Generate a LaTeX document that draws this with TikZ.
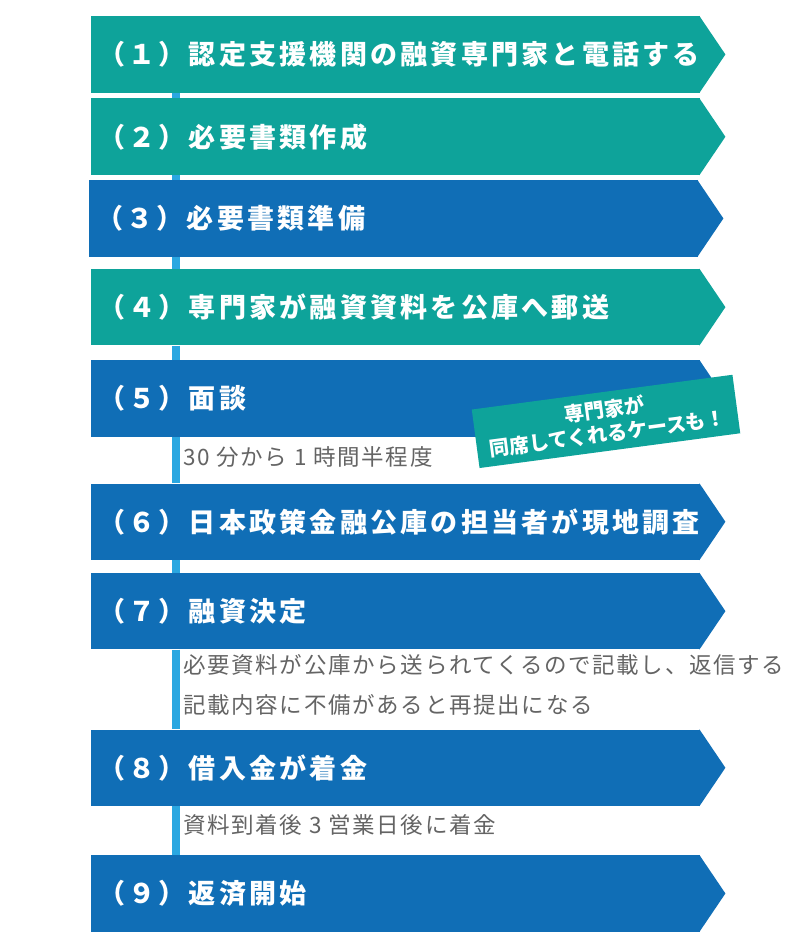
\documentclass[tikz,border=0pt]{standalone}
\usepackage{fontspec}
\usetikzlibrary{positioning}
\newfontfamily\titlefont{Noto Sans CJK JP}[LetterSpace=12]
\newfontfamily\notefont{Noto Sans CJK JP}[LetterSpace=7.5]
\newfontfamily\callfont{Noto Sans CJK JP}
\definecolor{flowteal}{RGB}{14,163,154}
\definecolor{flowblue}{RGB}{16,110,182}
\definecolor{spineblue}{RGB}{42,167,225}
\definecolor{notegray}{RGB}{100,100,100}

\begin{document}
\begin{tikzpicture}[x=1pt, y=-1pt,
    stepbox/.style={fill=#1, anchor=north west, minimum height=76.5pt, text width=595pt,
        inner xsep=7pt, inner ysep=0pt, align=left, text=white,
        font=\titlefont\bfseries\fontsize{27}{30}\selectfont},
    spine/.style={draw=spineblue, line width=8pt},
    note/.style={anchor=west, inner sep=0pt, text=notegray, align=left,
        font=\notefont\fontsize{22.5}{40}\selectfont},
    callout/.style={fill=flowteal, rotate=7.6, minimum width=263pt, minimum height=59pt,
        inner sep=0pt, align=center, text=white,
        font=\callfont\bfseries\fontsize{20}{24}\selectfont}]
    \useasboundingbox [fill=white] (0,0) rectangle (800,949);
    % steps
    \node [stepbox=flowteal] (s1) at (91,16) {（１）認定支援機関の融資専門家と電話する};
    \node [stepbox=flowteal] (s2) at (91,98.3) {（２）必要書類作成};
    \node [stepbox=flowblue] (s3) at (89,180) {（３）必要書類準備};
    \node [stepbox=flowteal] (s4) at (91,268.7) {（４）専門家が融資資料を公庫へ郵送};
    \node [stepbox=flowblue] (s5) at (91,360) {（５）面談};
    \node [stepbox=flowblue] (s6) at (91,483.3) {（６）日本政策金融公庫の担当者が現地調査};
    \node [stepbox=flowblue] (s7) at (91,572.7) {（７）融資決定};
    \node [stepbox=flowblue] (s8) at (91,729.3) {（８）借入金が着金};
    \node [stepbox=flowblue] (s9) at (91,855) {（９）返済開始};
    \fill [flowteal] ([xshift=-1pt]s1.north east) -- ([xshift=25pt]s1.east) -- ([xshift=-1pt]s1.south east) -- cycle;
    \fill [flowteal] ([xshift=-1pt]s2.north east) -- ([xshift=25pt]s2.east) -- ([xshift=-1pt]s2.south east) -- cycle;
    \fill [flowblue] ([xshift=-1pt]s3.north east) -- ([xshift=25pt]s3.east) -- ([xshift=-1pt]s3.south east) -- cycle;
    \fill [flowteal] ([xshift=-1pt]s4.north east) -- ([xshift=25pt]s4.east) -- ([xshift=-1pt]s4.south east) -- cycle;
    \fill [flowblue] ([xshift=-1pt]s5.north east) -- ([xshift=25pt]s5.east) -- ([xshift=-1pt]s5.south east) -- cycle;
    \fill [flowblue] ([xshift=-1pt]s6.north east) -- ([xshift=25pt]s6.east) -- ([xshift=-1pt]s6.south east) -- cycle;
    \fill [flowblue] ([xshift=-1pt]s7.north east) -- ([xshift=25pt]s7.east) -- ([xshift=-1pt]s7.south east) -- cycle;
    \fill [flowblue] ([xshift=-1pt]s8.north east) -- ([xshift=25pt]s8.east) -- ([xshift=-1pt]s8.south east) -- cycle;
    \fill [flowblue] ([xshift=-1pt]s9.north east) -- ([xshift=25pt]s9.east) -- ([xshift=-1pt]s9.south east) -- cycle;
    % spine between the steps
    \coordinate (axis) at (176,0);
    \draw [spine] (axis |- s1.south) -- (axis |- s2.north);
    \draw [spine] (axis |- s2.south) -- (axis |- s3.north);
    \draw [spine] (axis |- s3.south) -- (axis |- s4.north);
    \draw [spine] (axis |- s4.south) -- (axis |- s5.north);
    \draw [spine] (axis |- s5.south) -- (axis |- s6.north);
    \draw [spine] (axis |- s6.south) -- (axis |- s7.north);
    \draw [spine] (axis |- s7.south) -- (axis |- s8.north);
    \draw [spine] (axis |- s8.south) -- (axis |- s9.north);
    % notes
    \node [note] (n5) at (183,457) {30 分から 1 時間半程度};
    \node [note] (n7) at (183,685) {必要資料が公庫から送られてくるので記載し、返信する\\記載内容に不備があると再提出になる};
    \node [note] (n8) at (183,825) {資料到着後 3 営業日後に着金};
    \node [callout] (c5) at (606,421.4) {専門家が\\同席してくれるケースも！};
\end{tikzpicture}
\end{document}
